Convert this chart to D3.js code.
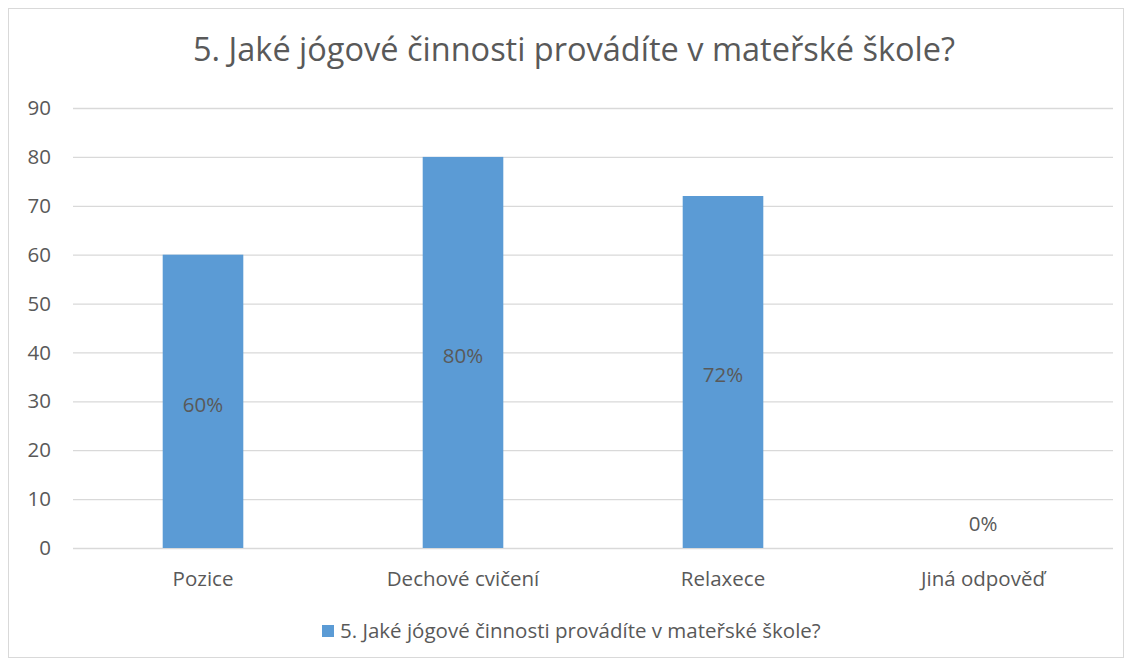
<!DOCTYPE html>
<html>
<head>
<meta charset="utf-8">
<script src="https://cdn.jsdelivr.net/npm/d3@7"></script>
<style>
  body { margin: 0; background: #fff; }
  text { font-family: "Open Sans", "Noto Sans", sans-serif; fill: #595959; }
</style>
</head>
<body>
<div id="chart"></div>
<script>
// data
const categories = ["Pozice", "Dechové cvičení", "Relaxece", "Jiná odpověď"];
const values = [60, 80, 72, 0];
const dataLabels = ["60%", "80%", "72%", "0%"];
const yTicks = [0, 10, 20, 30, 40, 50, 60, 70, 80, 90];
const seriesName = "5. Jaké jógové činnosti provádíte v mateřské škole?";
const chartTitle = "5. Jaké jógové činnosti provádíte v mateřské škole?";

const width = 1132;
const height = 666;
const margin = { top: 108, right: 19, bottom: 118, left: 73 };
const barColor = "#5b9bd5";
const labelSize = "20.5px";

const svg = d3.select("#chart")
    .append("svg")
    .attr("width", width)
    .attr("height", height);

// outer border
svg.append("rect")
    .attr("x", 8.5)
    .attr("y", 8.5)
    .attr("width", width - 17)
    .attr("height", height - 17)
    .attr("fill", "#fff")
    .attr("stroke", "#d9d9d9");

const x = d3.scaleBand()
    .domain(categories)
    .range([margin.left, width - margin.right])
    .paddingInner(0.69)
    .paddingOuter(0.345);

const y = d3.scaleLinear()
    .domain([0, 90])
    .range([height - margin.bottom, margin.top]);

// gridlines
const yAxis = d3.axisLeft(y)
    .tickValues(yTicks)
    .tickSize(-(width - margin.left - margin.right))
    .tickPadding(22);

const gy = svg.append("g")
    .attr("transform", `translate(${margin.left},0)`)
    .call(yAxis);
gy.select(".domain").remove();
gy.selectAll(".tick line").attr("stroke", "#d9d9d9").attr("stroke-width", 1.3);
gy.selectAll(".tick text")
    .style("font-size", labelSize)
    .attr("fill", "#595959");

// bars
svg.append("g")
    .selectAll("rect")
    .data(values)
    .enter()
    .append("rect")
    .attr("x", (d, i) => x(categories[i]))
    .attr("y", (d) => y(d))
    .attr("width", x.bandwidth())
    .attr("height", (d) => y(0) - y(d))
    .attr("fill", barColor);

// data labels
svg.append("g")
    .selectAll("text")
    .data(values)
    .enter()
    .append("text")
    .attr("x", (d, i) => x(categories[i]) + x.bandwidth() / 2)
    .attr("y", (d) => d > 0 ? (y(d) + y(0)) / 2 + 3 : y(0) - 24)
    .attr("text-anchor", "middle")
    .attr("dy", "0.35em")
    .style("font-size", labelSize)
    .text((d, i) => dataLabels[i]);

// category labels
svg.append("g")
    .selectAll("text")
    .data(categories)
    .enter()
    .append("text")
    .attr("x", (d) => x(d) + x.bandwidth() / 2)
    .attr("y", y(0) + 31)
    .attr("text-anchor", "middle")
    .attr("dy", "0.35em")
    .style("font-size", labelSize)
    .text((d) => d);

// title
svg.append("text")
    .attr("x", 574)
    .attr("y", 50)
    .attr("text-anchor", "middle")
    .attr("dy", "0.35em")
    .style("font-size", "32.5px")
    .text(chartTitle);

// legend
const legend = svg.append("g");
legend.append("rect")
    .attr("x", 322)
    .attr("y", 625)
    .attr("width", 12)
    .attr("height", 12)
    .attr("fill", barColor);
legend.append("text")
    .attr("x", 340)
    .attr("y", 631)
    .attr("dy", "0.35em")
    .style("font-size", labelSize)
    .text(seriesName);
</script>
</body>
</html>
